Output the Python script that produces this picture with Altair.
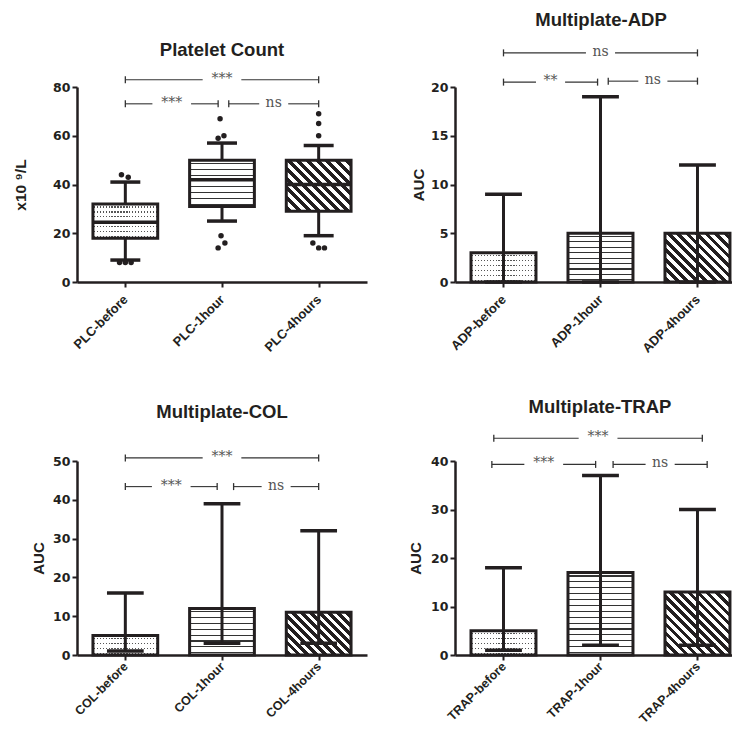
import altair as alt
import pandas as pd

# ---------------- data ----------------
PLC_CATS = ["PLC-before", "PLC-1hour", "PLC-4hours"]
PLC_LOW = [9, 25, 19]
PLC_Q1 = [18, 31, 29]
PLC_MED = [24.5, 42, 40]
PLC_Q3 = [32, 50, 50]
PLC_HIGH = [41, 57, 56]
PLC_OUT_GROUP = [0, 0, 0, 0, 0, 1, 1, 1, 1, 1, 1, 2, 2, 2, 2, 2, 2]
PLC_OUT_VALUE = [44, 43, 8, 8, 8, 67, 60, 59, 19, 16, 14, 69, 65, 60, 16, 14, 14]
PLC_OUT_JITTER = [-0.04, 0.03, -0.06, 0.0, 0.06, -0.02, 0.02, -0.04, -0.01, 0.03, -0.04,
                  0.0, 0.0, 0.0, -0.06, 0.0, 0.06]

ADP_CATS = ["ADP-before", "ADP-1hour", "ADP-4hours"]
ADP_BAR = [3, 5, 5]
ADP_LOW = [0, 0, 0]
ADP_HIGH = [9, 19, 12]

COL_CATS = ["COL-before", "COL-1hour", "COL-4hours"]
COL_BAR = [5, 12, 11]
COL_LOW = [1, 3, 3]
COL_HIGH = [16, 39, 32]

TRAP_CATS = ["TRAP-before", "TRAP-1hour", "TRAP-4hours"]
TRAP_BAR = [5, 17, 13]
TRAP_LOW = [1, 2, 2]
TRAP_HIGH = [18, 37, 30]

# significance brackets: start, end (in category-index units), label, level
PLC_BR_START = [0.0, 0.0, 1.07]
PLC_BR_END = [2.0, 0.96, 2.0]
PLC_BR_LABEL = ["***", "***", "ns"]
PLC_BR_LEVEL = [83.0, 73.1, 73.1]

ADP_BR_START = [0.0, 0.0, 1.08]
ADP_BR_END = [2.0, 0.97, 2.0]
ADP_BR_LABEL = ["ns", "**", "ns"]
ADP_BR_LEVEL = [23.5, 20.5, 20.6]

COL_BR_START = [0.0, 0.0, 1.12]
COL_BR_END = [2.0, 0.95, 2.0]
COL_BR_LABEL = ["***", "***", "ns"]
COL_BR_LEVEL = [50.8, 43.4, 43.4]

TRAP_BR_START = [-0.1, -0.12, 1.13]
TRAP_BR_END = [2.05, 0.95, 2.1]
TRAP_BR_LABEL = ["***", "***", "ns"]
TRAP_BR_LEVEL = [44.7, 39.3, 39.3]

# ---------------- style ----------------
W_LEFT = 290
W_RIGHT = 277
X_MAX_RIGHT = 2.856
H_TOP = 195
H_BOT = 194
INK = "#231f20"
SANS = "Liberation Sans"
NUMF = "DejaVu Sans"
SERIF = "DejaVu Serif"
BOX_HALF = 0.335
CAP_BOX = 0.155
CAP_BAR = 0.19
PATTERNS = ["dots", "hlines", "diag"]


def stripe_stops(n, frac, line, bg, phase=0.0):
    stops = [{"offset": 0.0, "color": bg}]
    step = 1.0 / n
    for k in range(n):
        a = (k + phase) * step
        b = a + frac * step
        if a <= 0 or b >= 1:
            continue
        a = round(a, 5)
        b = round(b, 5)
        stops += [{"offset": a, "color": bg}, {"offset": a, "color": line},
                  {"offset": b, "color": line}, {"offset": b, "color": bg}]
    stops.append({"offset": 1.0, "color": bg})
    return stops


def hlines_fill(h_px, period, line_px, color):
    n = max(2, round(h_px / period))
    return {"gradient": "linear", "x1": 0, "y1": 0, "x2": 0, "y2": 1,
            "stops": stripe_stops(n, line_px * n / h_px, color, "#ffffff", 0.5)}


def vgaps_fill(w_px, period, gap_px):
    n = max(2, round(w_px / period))
    return {"gradient": "linear", "x1": 0, "y1": 0, "x2": 1, "y2": 0,
            "stops": stripe_stops(n, gap_px * n / w_px, "rgba(255,255,255,0)", "#ffffff", 0.3)}


def diag_fill(w_px, h_px, period=6.6, frac=0.5):
    k = (w_px + h_px) / (w_px ** 2 + h_px ** 2)
    span = (w_px + h_px) / 2 ** 0.5
    n = max(2, round(span / period))
    return {"gradient": "linear", "x1": 0, "y1": 1, "x2": round(k * w_px, 5),
            "y2": round(1 - k * h_px, 5),
            "stops": stripe_stops(n, frac, INK, "#ffffff", 0.2)}


def x_enc(field, cats, xmax, lpad, lsize):
    arr = "[" + ",".join("'" + c + "'" for c in cats) + "]"
    return alt.X(field, type="quantitative",
                 scale=alt.Scale(domain=[0, xmax], nice=False, zero=False),
                 axis=alt.Axis(values=[0.5, 1.5, 2.5], labelExpr=arr + "[floor(datum.value)]",
                               title=None, labelAngle=315, labelAlign="right",
                               labelBaseline="middle", labelFont=SANS, labelFontWeight="bold",
                               labelFontSize=lsize, labelColor=INK, labelPadding=lpad,
                               domainColor=INK, domainWidth=2.5, tickColor=INK, tickWidth=2,
                               tickSize=5, grid=False, labelOverlap=False, labelFlush=False))


def y_enc(field, ymax, yvals, ytitle, tpad, tsize):
    return alt.Y(field, type="quantitative",
                 scale=alt.Scale(domain=[0, ymax], nice=False, zero=True),
                 axis=alt.Axis(values=yvals, title=ytitle, titleFont=SANS, titleFontSize=tsize,
                               titleFontWeight="bold", titleColor=INK, titlePadding=tpad,
                               labelFont=NUMF, labelFontWeight="bold", labelFontSize=12.5,
                               labelColor=INK, labelPadding=2, domainColor=INK,
                               domainWidth=2.5, tickColor=INK, tickWidth=2, tickSize=5,
                               grid=False))


def panel(cats, ymax, yvals, ytitle, tpad, H, W, xmax, lpad, lsize, title, t_off, t_dx,
          base, top, low, high, median=None, outliers=None, brackets=None, cap=CAP_BAR,
          tsize=15):
    X = lambda f: x_enc(f, cats, xmax, lpad, lsize)
    Y = lambda f: y_enc(f, ymax, yvals, ytitle, tpad, tsize)
    px_y = H / ymax
    w_px = 2 * BOX_HALF * W / xmax
    layers = []

    # patterned boxes / bars
    for i in range(3):
        c = i + 0.5
        df = pd.DataFrame({"xa": [c - BOX_HALF], "xb": [c + BOX_HALF],
                           "ya": [base[i]], "yb": [top[i]]})
        h_px = (top[i] - base[i]) * px_y
        enc = dict(x=X("xa"), x2="xb", y=Y("ya"), y2="yb")
        kind = PATTERNS[i]
        if kind == "dots":
            layers.append(alt.Chart(df).mark_bar(fill=hlines_fill(h_px, 5.2, 1.3, "#555555"),
                                                 strokeWidth=0).encode(**enc))
            layers.append(alt.Chart(df).mark_bar(fill=vgaps_fill(w_px, 3.0, 1.3),
                                                 strokeWidth=0).encode(**enc))
        elif kind == "hlines":
            layers.append(alt.Chart(df).mark_bar(fill=hlines_fill(h_px, 5.7, 1.1, "#333333"),
                                                 strokeWidth=0).encode(**enc))
        else:
            layers.append(alt.Chart(df).mark_bar(fill=diag_fill(w_px, h_px),
                                                 strokeWidth=0).encode(**enc))
        layers.append(alt.Chart(df).mark_bar(fill="transparent", stroke=INK, strokeWidth=3,
                                             strokeJoin="miter").encode(**enc))

    # whiskers (vertical)
    vx, va, vb = [], [], []
    for i in range(3):
        c = i + 0.5
        if median is not None:
            vx += [c, c]
            va += [low[i], top[i]]
            vb += [base[i], high[i]]
        else:
            vx.append(c)
            va.append(low[i])
            vb.append(high[i])
    vdf = pd.DataFrame({"x": vx, "ya": va, "yb": vb})
    layers.append(alt.Chart(vdf).mark_rule(color=INK, strokeWidth=3).encode(
        x=X("x"), y=Y("ya"), y2="yb"))

    # caps and median (horizontal)
    hx1, hx2, hy = [], [], []
    for i in range(3):
        c = i + 0.5
        for v in (low[i], high[i]):
            hx1.append(c - cap)
            hx2.append(c + cap)
            hy.append(v)
        if median is not None:
            hx1.append(c - BOX_HALF)
            hx2.append(c + BOX_HALF)
            hy.append(median[i])
    hdf = pd.DataFrame({"xa": hx1, "xb": hx2, "y": hy})
    layers.append(alt.Chart(hdf).mark_rule(color=INK, strokeWidth=3.5).encode(
        x=X("xa"), x2="xb", y=Y("y")))

    # outliers
    if outliers is not None:
        g, v, j = outliers
        odf = pd.DataFrame({"x": [gi + 0.5 + ji for gi, ji in zip(g, j)], "y": v})
        layers.append(alt.Chart(odf).mark_circle(size=30, color=INK, opacity=1).encode(
            x=X("x"), y=Y("y")))

    # significance brackets
    s, e, lab, lev = brackets
    seg_a, seg_b, seg_y, tick_x, tick_y, tx, ty, tt = [], [], [], [], [], [], [], []
    for si, ei, li, yi in zip(s, e, lab, lev):
        a = si + 0.5
        b = ei + 0.5
        m = (a + b) / 2
        gap = 0.2 if len(li) >= 3 else 0.15
        seg_a += [a, m + gap]
        seg_b += [m - gap, b]
        seg_y += [yi, yi]
        tick_x += [a, b]
        tick_y += [yi, yi]
        tx.append(m)
        ty.append(yi)
        tt.append(li)
    sdf = pd.DataFrame({"xa": seg_a, "xb": seg_b, "y": seg_y})
    tdf = pd.DataFrame({"x": tick_x, "y": tick_y})
    ldf = pd.DataFrame({"x": tx, "y": ty, "t": tt})
    layers.append(alt.Chart(sdf).mark_rule(color="#333333", strokeWidth=1.1).encode(
        x=X("xa"), x2="xb", y=Y("y")))
    layers.append(alt.Chart(tdf).mark_point(shape="M0,-1L0,1", size=49, strokeWidth=1.3,
                                            color="#333333", filled=False, opacity=1).encode(
        x=X("x"), y=Y("y")))
    layers.append(alt.Chart(ldf).mark_text(font=SERIF, fontSize=14, color="#555555",
                                           baseline="middle", dy=-1).encode(
        x=X("x"), y=Y("y"), text="t:N"))

    return alt.layer(*layers).properties(
        width=W, height=H,
        title=alt.TitleParams(text=title, font=SANS, fontSize=18.5, fontWeight="bold",
                              color=INK, anchor="middle", offset=t_off, dx=t_dx))


p_plc = panel(PLC_CATS, 80, [0, 20, 40, 60, 80], "x10 ⁹/L", 24.5, H_TOP, W_LEFT, 3, 10, 13,
              "Platelet Count", 12.5, 0,
              PLC_Q1, PLC_Q3, PLC_LOW, PLC_HIGH, median=PLC_MED,
              outliers=(PLC_OUT_GROUP, PLC_OUT_VALUE, PLC_OUT_JITTER),
              brackets=(PLC_BR_START, PLC_BR_END, PLC_BR_LABEL, PLC_BR_LEVEL), cap=CAP_BOX,
              tsize=15.5)
p_adp = panel(ADP_CATS, 20, [0, 5, 10, 15, 20], "AUC", 4, H_TOP, W_RIGHT, X_MAX_RIGHT, 10, 13,
              "Multiplate-ADP", 15, 7.5,
              [0, 0, 0], ADP_BAR, ADP_LOW, ADP_HIGH,
              brackets=(ADP_BR_START, ADP_BR_END, ADP_BR_LABEL, ADP_BR_LEVEL))
p_col = panel(COL_CATS, 50, [0, 10, 20, 30, 40, 50], "AUC", 6.5, H_BOT, W_LEFT, 3, 4, 12.5,
              "Multiplate-COL", 28.5, 0,
              [0, 0, 0], COL_BAR, COL_LOW, COL_HIGH,
              brackets=(COL_BR_START, COL_BR_END, COL_BR_LABEL, COL_BR_LEVEL))
p_trap = panel(TRAP_CATS, 40, [0, 10, 20, 30, 40], "AUC", 7.5, H_BOT, W_RIGHT, X_MAX_RIGHT, 4,
               12.5, "Multiplate-TRAP", 14, 6.5,
               [0, 0, 0], TRAP_BAR, TRAP_LOW, TRAP_HIGH,
               brackets=(TRAP_BR_START, TRAP_BR_END, TRAP_BR_LABEL, TRAP_BR_LEVEL))

chart = alt.concat(
    p_plc, p_adp, p_col, p_trap, columns=2,
    spacing=alt.RowColnumber(row=179, column=88), bounds="flush"
).properties(
    padding={"top": 3, "left": 5, "right": 0, "bottom": 0}
).configure_view(stroke=None).configure_axis(grid=False)

chart.save("out.html", embed_options={"renderer": "svg", "actions": False})
